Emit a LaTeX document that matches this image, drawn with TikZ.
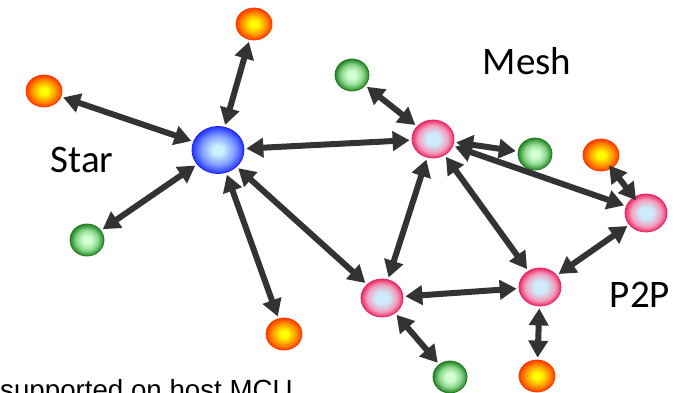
\documentclass[tikz,border=0pt]{standalone}
\usepackage{fontspec}
\setmainfont{Carlito}
\newfontfamily\notefont{Liberation Sans}
\usetikzlibrary{arrows.meta,shapes.geometric}

\definecolor{arrowgray}{HTML}{333333}
\definecolor{orgin}{HTML}{FFFF00}
\definecolor{orgmid}{HTML}{FF9A00}
\definecolor{orgout}{HTML}{FF3A00}
\definecolor{grnin}{HTML}{D2FFD2}
\definecolor{grnmid}{HTML}{8ED88E}
\definecolor{grnout}{HTML}{238523}
\definecolor{grnedge}{HTML}{1E7A1E}
\definecolor{bluin}{HTML}{C8F2FF}
\definecolor{blumid}{HTML}{7F9BFF}
\definecolor{bluout}{HTML}{2435FF}
\definecolor{bluedge}{HTML}{1C1CF0}
\definecolor{pnkin}{HTML}{CDEBFA}
\definecolor{pnkmid}{HTML}{F29CBC}
\definecolor{pnkout}{HTML}{EC2C68}
\definecolor{pnkedge}{HTML}{E8205E}

% ball shadings: light core, saturated rim (25bp is the node border)
\pgfdeclareradialshading{orangeball}{\pgfpoint{0bp}{0bp}}%
  {color(0bp)=(orgin); color(5bp)=(orgin); color(16bp)=(orgmid); color(25bp)=(orgout); color(50bp)=(orgout)}
\pgfdeclareradialshading{greenball}{\pgfpoint{0bp}{0bp}}%
  {color(0bp)=(grnin); color(6bp)=(grnin); color(16bp)=(grnmid); color(25bp)=(grnout); color(50bp)=(grnout)}
\pgfdeclareradialshading{blueball}{\pgfpoint{0bp}{0bp}}%
  {color(0bp)=(bluin); color(5bp)=(bluin); color(16bp)=(blumid); color(25bp)=(bluout); color(50bp)=(bluout)}
\pgfdeclareradialshading{pinkball}{\pgfpoint{0bp}{0bp}}%
  {color(0bp)=(pnkin); color(8bp)=(pnkin); color(18bp)=(pnkmid); color(25bp)=(pnkout); color(50bp)=(pnkout)}

\tikzset{
  dev/.style={ellipse, inner sep=0pt, line width=0.8pt},
  orangedev/.style={dev, minimum width=36pt, minimum height=32pt,
    draw=orgout, shading=orangeball},
  greendev/.style={dev, minimum width=34pt, minimum height=32pt,
    draw=grnedge, shading=greenball},
  bluedev/.style={dev, minimum width=52pt, minimum height=47pt,
    draw=bluedge, shading=blueball},
  pinkdev/.style={dev, minimum width=42pt, minimum height=38pt,
    draw=pnkedge, shading=pinkball},
  link/.style={draw=arrowgray, line width=6pt,
    {Triangle[length=17pt,width=19pt]}-{Triangle[length=17pt,width=19pt]},
    shorten >=2pt, shorten <=2pt},
  shortlink/.style={link, shorten >=-4pt, shorten <=-4pt},
  tag/.style={font=\fontsize{39}{39}\selectfont, anchor=base, inner sep=0pt}
}

\begin{document}
\begin{tikzpicture}[x=1pt,y=-1pt]
  \useasboundingbox (0,0) rectangle (690,393);

  % star network
  \node[bluedev]   (hub)  at (218,150) {};
  \node[orangedev] (sO1)  at (254,24)  {};
  \node[orangedev] (sO2)  at (44,91)   {};
  \node[greendev]  (sG1)  at (87,240)  {};
  \node[orangedev] (sO3)  at (284,334) {};

  % mesh network
  \node[pinkdev]   (mA)   at (433,139) {};
  \node[pinkdev]   (mB)   at (382,298) {};
  \node[pinkdev]   (mC)   at (540,287) {};
  \node[pinkdev]   (mD)   at (646,213) {};
  \node[greendev]  (mG1)  at (352,75)  {};
  \node[greendev]  (mG2)  at (535,154) {};
  \node[greendev]  (mG3)  at (450,377) {};
  \node[orangedev] (mO1)  at (601,155) {};
  \node[orangedev] (mO2)  at (537,376) {};

  % labels
  \node[tag] (lstar) at (82,172)  {Star};
  \node[tag] (lmesh) at (527,75)  {Mesh};
  \node[tag] (lp2p)  at (640,307) {P2P};
  \node[anchor=base west, inner sep=0pt,
        font=\notefont\fontsize{27.7}{27.7}\selectfont] (note) at (0,399)
        {supported on host MCU};

  % links
  \draw[link] (hub) -- (sO1);
  \draw[link] (hub) -- (sO2);
  \draw[link] (hub) -- (sG1);
  \draw[link] (hub) -- (sO3);
  \draw[link] (hub) -- (mA);
  \draw[link] (hub) -- (mB);
  \draw[link] (mA) -- (mG1);
  \draw[link] (mA) -- (mG2);
  \draw[link] (mA) -- (mD);
  \draw[link] (mA) -- (mC);
  \draw[link] (mA) -- (mB);
  \draw[link] (mB) -- (mC);
  \draw[link] (mB) -- (mG3);
  \draw[link] (mC) -- (mD);
  \draw[link] (mC) -- (mO2);
  \draw[shortlink] (mD) -- (mO1);
\end{tikzpicture}
\end{document}
